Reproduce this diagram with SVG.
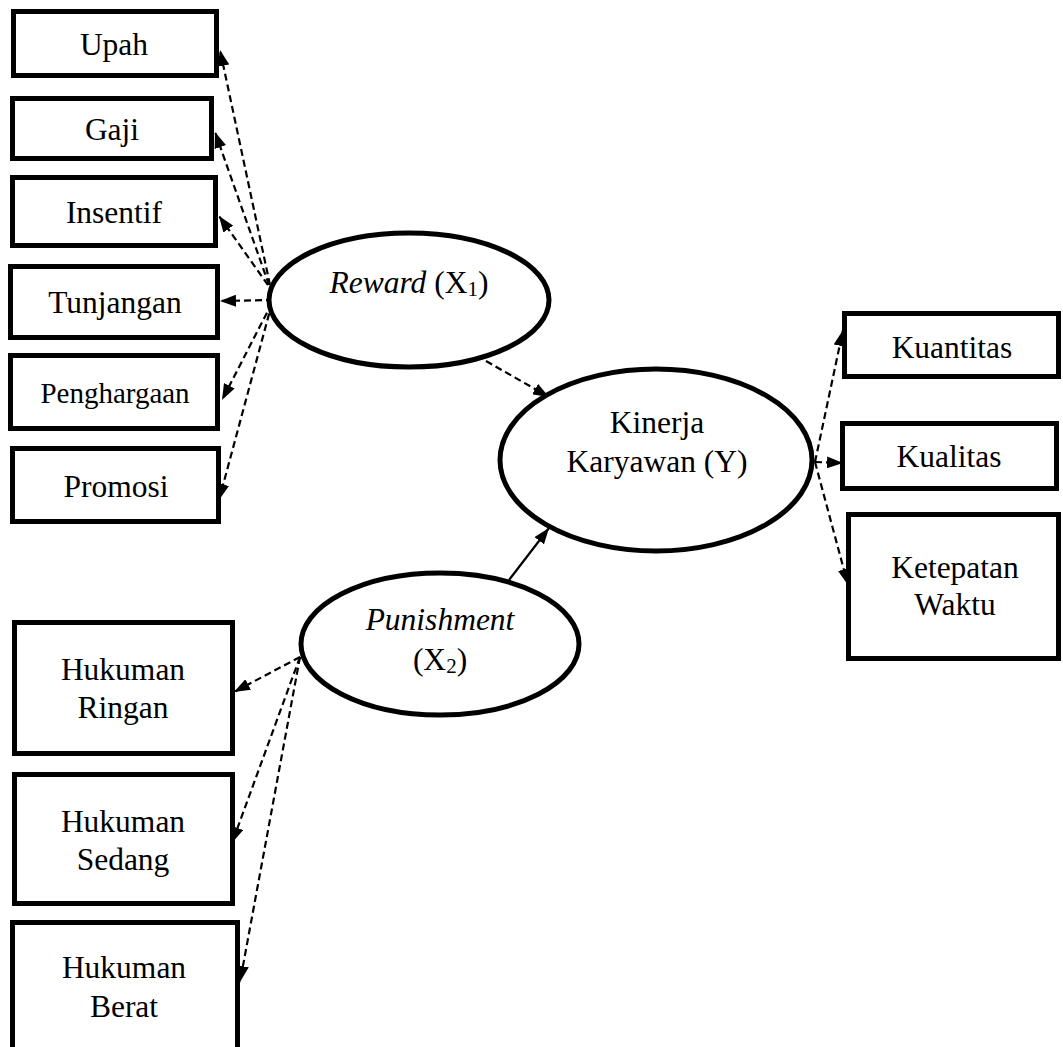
<svg xmlns="http://www.w3.org/2000/svg" width="1063" height="1047" viewBox="0 0 1063 1047">
<style>
.box{fill:#fff;stroke:#000;stroke-width:5}
.ell{fill:#fff;stroke:#000;stroke-width:5}
.t{font-family:"Liberation Serif","Times New Roman",serif;font-size:31.5px;fill:#000;text-anchor:middle}
.dash{fill:none;stroke:#000;stroke-width:2.2;stroke-dasharray:7 4;marker-end:url(#ah)}
.solid{fill:none;stroke:#000;stroke-width:2.2;marker-end:url(#ah)}
</style>
<defs>
<marker id="ah" viewBox="0 0 16 12" refX="16" refY="6" markerWidth="16" markerHeight="12" markerUnits="userSpaceOnUse" orient="auto">
<path d="M0,0 L16,6 L0,12 Z" fill="#000"/>
</marker>
</defs>
<rect width="1063" height="1047" fill="#fff"/>
<g id="connectors">
<line class="dash" x1="270" y1="285" x2="220" y2="50"/>
<line class="dash" x1="269" y1="285" x2="215" y2="132"/>
<line class="dash" x1="268" y1="285" x2="219" y2="216"/>
<line class="dash" x1="273" y1="300" x2="220" y2="301"/>
<line class="dash" x1="272" y1="303" x2="222" y2="400"/>
<line class="dash" x1="272" y1="303" x2="219" y2="500"/>
<line class="dash" x1="486" y1="361" x2="549" y2="397"/>
<line class="solid" x1="509" y1="580" x2="549" y2="528"/>
<line class="dash" x1="300" y1="657" x2="234" y2="692"/>
<line class="dash" x1="300" y1="657" x2="232" y2="843"/>
<line class="dash" x1="300" y1="657" x2="240" y2="982"/>
<line class="dash" x1="815" y1="462" x2="843" y2="330"/>
<line class="dash" x1="815" y1="462" x2="843" y2="463"/>
<line class="dash" x1="815" y1="462" x2="848" y2="585"/>
</g>
<g id="upah"><rect class="box" x="13.5" y="11.5" width="203" height="64"/><text class="t" x="114" y="55">Upah</text></g>
<g id="gaji"><rect class="box" x="12.5" y="98.5" width="199" height="60"/><text class="t" x="112" y="140">Gaji</text></g>
<g id="insentif"><rect class="box" x="12.5" y="177.5" width="203" height="68"/><text class="t" x="114" y="223">Insentif</text></g>
<g id="tunjangan"><rect class="box" x="10.5" y="266.5" width="207" height="71"/><text class="t" x="115" y="313">Tunjangan</text></g>
<g id="penghargaan"><rect class="box" x="10.5" y="355.5" width="207" height="73"/><text class="t" x="115" y="403" style="font-size:29px">Penghargaan</text></g>
<g id="promosi"><rect class="box" x="12.5" y="448.5" width="206" height="73"/><text class="t" x="116" y="497">Promosi</text></g>
<g id="reward"><ellipse class="ell" cx="409" cy="300" rx="140" ry="67"/><text class="t" x="409" y="293"><tspan font-style="italic">Reward</tspan> (X<tspan font-size="21" dy="3">1</tspan><tspan dy="-3">)</tspan></text></g>
<g id="kinerja"><ellipse class="ell" cx="656" cy="460" rx="156" ry="91"/><text class="t" x="657" y="433">Kinerja</text><text class="t" x="657" y="472">Karyawan (Y)</text></g>
<g id="punishment"><ellipse class="ell" cx="440" cy="644" rx="139" ry="71"/><text class="t" x="440" y="630" font-style="italic">Punishment</text><text class="t" x="440" y="670">(X<tspan font-size="21" dy="3">2</tspan><tspan dy="-3">)</tspan></text></g>
<g id="kuantitas"><rect class="box" x="844.5" y="313.5" width="214" height="63"/><text class="t" x="952" y="358">Kuantitas</text></g>
<g id="kualitas"><rect class="box" x="842.5" y="423.5" width="214" height="65"/><text class="t" x="949" y="467">Kualitas</text></g>
<g id="ketepatan"><rect class="box" x="848.5" y="514.5" width="210" height="144"/><text class="t" x="955" y="578">Ketepatan</text><text class="t" x="955" y="615">Waktu</text></g>
<g id="ringan"><rect class="box" x="14.5" y="622.5" width="218" height="131"/><text class="t" x="123" y="680">Hukuman</text><text class="t" x="123" y="718">Ringan</text></g>
<g id="sedang"><rect class="box" x="14.5" y="774.5" width="218" height="129"/><text class="t" x="123" y="832">Hukuman</text><text class="t" x="123" y="870">Sedang</text></g>
<g id="berat"><rect class="box" x="12.5" y="922.5" width="225" height="140"/><text class="t" x="124" y="978">Hukuman</text><text class="t" x="124" y="1017">Berat</text></g>
</svg>
